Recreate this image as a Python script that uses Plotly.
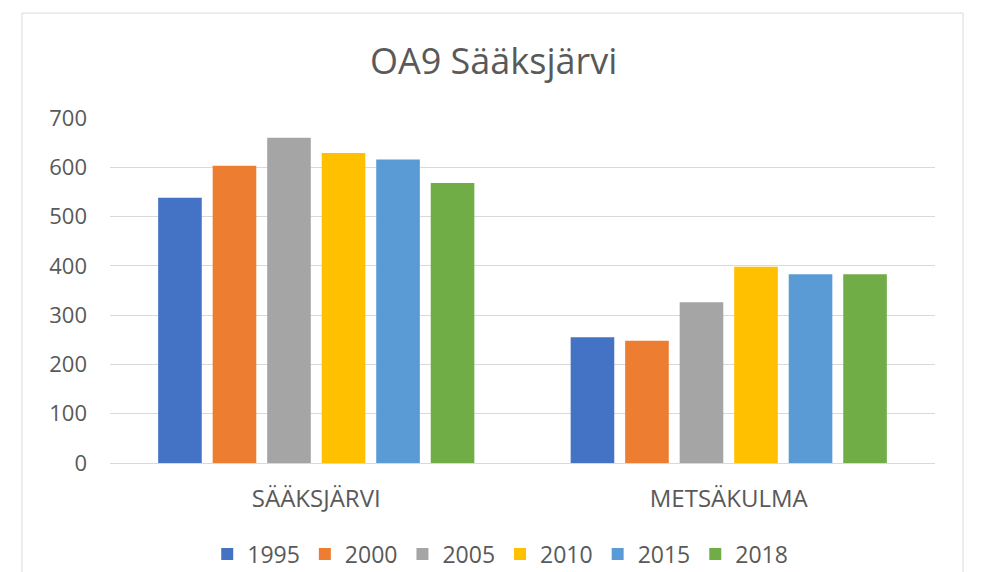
import plotly.graph_objects as go

kategoriat = ["SÄÄKSJÄRVI", "METSÄKULMA"]
vuodet = ["1995", "2000", "2005", "2010", "2015", "2018"]
arvot = {
    "1995": [538, 255],
    "2000": [603, 248],
    "2005": [660, 326],
    "2010": [629, 398],
    "2015": [616, 383],
    "2018": [568, 383],
}
varit = ["#4472C4", "#ED7D31", "#A5A5A5", "#FFC000", "#5B9BD5", "#70AD47"]

teksti = "#595959"
fontti = "Open Sans"

fig = go.Figure()
for vuosi, vari in zip(vuodet, varit):
    fig.add_trace(go.Bar(x=kategoriat, y=arvot[vuosi], name=vuosi, marker_color=vari,
                         marker_line_width=0))

# sivun body-marginaali (8 px) huomioitu koossa
fig.update_layout(
    width=974, height=564,
    paper_bgcolor="white", plot_bgcolor="white",
    margin=dict(l=102, r=47, t=110, b=109, autoexpand=False),
    barmode="group", bargap=0.207, bargroupgap=0.2,
    font=dict(family=fontti, color=teksti, size=22),
    title=dict(text="OA9 Sääksjärvi", x=0.465, xref="paper", xanchor="center",
               y=1 - 53 / 564, yref="container", yanchor="middle",
               font=dict(size=36, color=teksti, family=fontti)),
    xaxis=dict(showgrid=False, showline=False, ticks="", tickfont=dict(size=24, color=teksti),
               ticklabelstandoff=19),
    yaxis=dict(range=[0, 700], dtick=100, showgrid=True, gridcolor="#d9d9d9", gridwidth=1,
               zeroline=True, zerolinecolor="#d9d9d9", zerolinewidth=1, showline=False,
               ticks="", tickfont=dict(size=22, color=teksti), ticklabelstandoff=22),
    legend=dict(orientation="h", x=0.473, xanchor="center", y=-0.264, yanchor="middle",
                font=dict(size=23, color=teksti), itemwidth=30, traceorder="normal"),
    shapes=[dict(type="rect", xref="paper", yref="paper", x0=-0.1067, x1=1.034,
                 y0=-0.5, y1=1.304, line=dict(color="#d9d9d9", width=1),
                 fillcolor="rgba(0,0,0,0)", layer="below")],
)

fig.write_html("out.html")
